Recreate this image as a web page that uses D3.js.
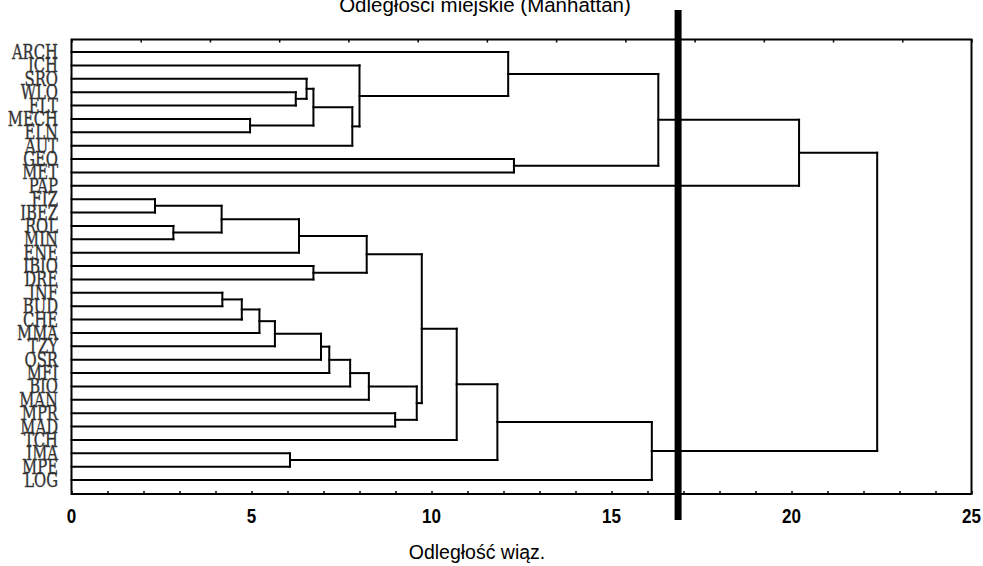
<!DOCTYPE html>
<html>
<head>
<meta charset="utf-8">
<script src="https://cdn.jsdelivr.net/npm/d3@7/dist/d3.min.js"></script>
<style>
  html, body { margin: 0; padding: 0; background: #fff; }
  svg { display: block; }
</style>
</head>
<body>
<svg id="chart" width="983" height="566"></svg>
<script>
// ---- data ----
const leaves = ["ARCH","ICH","SRO","WLO","ELT","MECH","ELN","AUT","GEO","MET","PAP",
  "FIZ","IBEZ","ROL","MIN","ENE","IBIO","DRE","INF","BUD","CHE","MMA","TZY","OSR",
  "MFI","BIO","MAN","MPR","MAD","TCH","IMA","MPE","LOG"];
// children: leaf name or index of an earlier merge
const mergePairs = [
  ["WLO","ELT"], ["SRO",0], ["MECH","ELN"], [1,2], [3,"AUT"], ["ICH",4],
  ["ARCH",5], ["GEO","MET"], [6,7], [8,"PAP"],
  ["FIZ","IBEZ"], ["ROL","MIN"], [10,11], [12,"ENE"], ["IBIO","DRE"], [13,14],
  ["INF","BUD"], [16,"CHE"], [17,"MMA"], [18,"TZY"], [19,"OSR"], [20,"MFI"],
  [21,"BIO"], [22,"MAN"], ["MPR","MAD"], [23,24], [15,25], [26,"TCH"],
  ["IMA","MPE"], [27,28], [29,"LOG"], [9,30]
];
const mergeHeights = [6.23, 6.53, 4.96, 6.72, 7.8, 8.0, 12.13, 12.29, 16.3, 20.21,
  2.32, 2.83, 4.17, 6.32, 6.72, 8.2, 4.19, 4.73, 5.22, 5.65, 6.93, 7.16, 7.74, 8.26,
  8.99, 9.59, 9.73, 10.7, 6.07, 11.83, 16.12, 22.38];
const xTickLabels = [0, 5, 10, 15, 20, 25];
const cutHeight = 16.85;
const titleText = "Odległości miejskie (Manhattan)";
const xAxisTitle = "Odległość wiąz.";

// ---- layout ----
const svg = d3.select("#chart");
const frame = { left: 71.5, right: 971.5, top: 39.5, bottom: 494 };
const x = d3.scaleLinear().domain([0, 25]).range([frame.left, frame.right]);
const y = d3.scalePoint().domain(leaves).range([52, 480]);

const nodeY = [], nodeH = [];
function cy(c) { return typeof c === "string" ? y(c) : nodeY[c]; }
function ch(c) { return typeof c === "string" ? 0 : nodeH[c]; }
mergePairs.forEach((p, i) => {
  nodeH[i] = mergeHeights[i];
  nodeY[i] = (cy(p[0]) + cy(p[1])) / 2;
});

const g = svg.append("g").attr("fill", "none").attr("stroke", "#000")
  .attr("stroke-width", 2).attr("stroke-linecap", "square");

// dendrogram elbows
mergePairs.forEach((p, i) => {
  const xh = x(mergeHeights[i]);
  p.forEach(c => {
    g.append("line").attr("x1", x(ch(c))).attr("x2", xh)
      .attr("y1", cy(c)).attr("y2", cy(c));
  });
  g.append("line").attr("x1", xh).attr("x2", xh)
    .attr("y1", cy(p[0])).attr("y2", cy(p[1]));
});

// frame
svg.append("rect")
  .attr("x", frame.left).attr("y", frame.top)
  .attr("width", frame.right - frame.left).attr("height", frame.bottom - frame.top)
  .attr("fill", "none").attr("stroke", "#000").attr("stroke-width", 2);

// bottom axis (ticks inward)
const bottomAxis = d3.axisBottom(x).tickValues(d3.range(0, 26, 1))
  .tickSize(-3).tickFormat("");
const ba = svg.append("g").attr("transform", `translate(0,${frame.bottom})`).call(bottomAxis);
ba.select(".domain").remove();
ba.selectAll("line").attr("stroke", "#000").attr("stroke-width", 1.5);

// top minor ticks
const topAxis = d3.axisTop(x).tickValues(d3.range(0, 14).map(k => k * 25 / 13))
  .tickSize(-3).tickFormat("");
const ta = svg.append("g").attr("transform", `translate(0,${frame.top})`).call(topAxis);
ta.select(".domain").remove();
ta.selectAll("line").attr("stroke", "#000").attr("stroke-width", 1.5);

// tick labels
svg.append("g").selectAll("text").data(xTickLabels).join("text")
  .attr("transform", d => `translate(${x(d)},523) scale(0.85,1)`)
  .attr("text-anchor", "middle")
  .attr("font-family", "'Liberation Sans', Arial, sans-serif")
  .attr("font-size", 20).attr("font-weight", "bold")
  .attr("fill", "#000")
  .text(d => d);

// leaf labels
svg.append("g").selectAll("text").data(leaves).join("text")
  .attr("transform", d => `translate(58,${y(d)}) scale(0.76,1)`)
  .attr("text-anchor", "end").attr("dy", "0.36em")
  .attr("font-family", "'DejaVu Serif', serif")
  .attr("font-size", 19.5)
  .attr("fill", "#333")
  .attr("stroke", "#333").attr("stroke-width", 0.35)
  .text(d => d);

// threshold line
svg.append("line")
  .attr("x1", x(cutHeight)).attr("x2", x(cutHeight))
  .attr("y1", 10).attr("y2", 520)
  .attr("stroke", "#000").attr("stroke-width", 7);

// titles
svg.append("text").attr("x", 485).attr("y", 12)
  .attr("text-anchor", "middle")
  .attr("font-family", "'Liberation Sans', Arial, sans-serif")
  .attr("font-size", 20.5).attr("fill", "#000")
  .text(titleText);

svg.append("text").attr("x", 477).attr("y", 559)
  .attr("text-anchor", "middle")
  .attr("font-family", "'Liberation Sans', Arial, sans-serif")
  .attr("font-size", 19.5).attr("fill", "#000")
  .text(xAxisTitle);
</script>
</body>
</html>
